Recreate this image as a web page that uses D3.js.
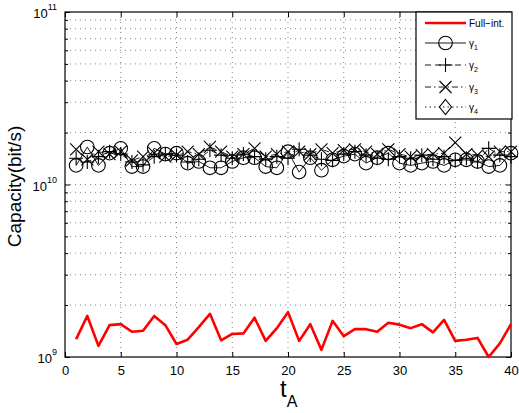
<!DOCTYPE html>
<html><head><meta charset="utf-8">
<script src="https://cdn.jsdelivr.net/npm/d3@7"></script>
<style>body{margin:0;background:#fff}svg{display:block}text{font-family:"Liberation Sans",Arial,sans-serif}</style>
</head><body><div id="c"></div>
<script>
const tA = d3.range(1, 41);
const fullInt = [1.27,1.73,1.16,1.53,1.55,1.40,1.42,1.73,1.53,1.19,1.26,1.49,1.78,1.25,1.36,1.37,1.69,1.24,1.47,1.82,
                 1.24,1.55,1.10,1.62,1.32,1.45,1.45,1.40,1.58,1.54,1.47,1.55,1.39,1.64,1.24,1.26,1.29,1.00,1.20,1.55].map(v=>v*1e9);
const gamma1 = [1.29,1.65,1.29,1.52,1.62,1.27,1.27,1.62,1.50,1.52,1.33,1.36,1.25,1.25,1.36,1.43,1.43,1.27,1.25,1.55,
                1.18,1.43,1.21,1.39,1.46,1.50,1.33,1.43,1.52,1.33,1.29,1.33,1.36,1.29,1.39,1.39,1.36,1.27,1.29,1.52].map(v=>v*1e10);
const gamma2 = [1.42,1.35,1.45,1.55,1.50,1.35,1.30,1.45,1.50,1.48,1.35,1.40,1.58,1.48,1.42,1.50,1.45,1.40,1.45,1.42,
                1.60,1.48,1.40,1.38,1.50,1.55,1.48,1.42,1.40,1.45,1.42,1.48,1.40,1.45,1.38,1.42,1.35,1.62,1.48,1.45].map(v=>v*1e10);
const gamma3 = [1.60,1.40,1.55,1.50,1.55,1.38,1.45,1.52,1.45,1.48,1.55,1.50,1.65,1.55,1.45,1.50,1.62,1.45,1.50,1.55,
                1.55,1.50,1.60,1.52,1.58,1.60,1.55,1.50,1.60,1.50,1.45,1.48,1.50,1.52,1.75,1.50,1.48,1.45,1.55,1.55].map(v=>v*1e10);
const gamma4 = []; // no γ4 markers are visible in the reference (legend entry only)
const xTicks = [0,5,10,15,20,25,30,35,40];
const yMajor = [1e9,1e10,1e11];
const legendLabels = ["Full\u2212int.","γ1","γ2","γ3","γ4"];

const W=519,H=413, L=65, R=511, T=12, B=357;
const svg=d3.select("#c").append("svg").attr("width",W).attr("height",H);
const x=d3.scaleLinear().domain([0,40]).range([L,R]);
const y=d3.scaleLog().domain([1e9,1e11]).range([B,T]);

const yMinor=[];
[1e9,1e10].forEach(d=>{for(let k=2;k<=9;k++) yMinor.push(d*k);});

const g=svg.append("g");
g.selectAll(".gx").data(xTicks.slice(1,-1)).enter().append("line")
 .attr("x1",d=>x(d)).attr("x2",d=>x(d)).attr("y1",T).attr("y2",B)
 .attr("stroke","#333").attr("stroke-width",0.6).attr("stroke-dasharray","1,4");
g.selectAll(".gy").data(yMinor.concat([1e10])).enter().append("line")
 .attr("x1",L).attr("x2",R).attr("y1",d=>y(d)).attr("y2",d=>y(d))
 .attr("stroke","#333").attr("stroke-width",0.6).attr("stroke-dasharray","1,4");

const ax=svg.append("g");
ax.append("g").attr("transform",`translate(0,${B})`).call(d3.axisBottom(x).tickValues(xTicks).tickSize(-5).tickPadding(9).tickFormat(d3.format("d")));
ax.append("g").attr("transform",`translate(0,${T})`).call(d3.axisTop(x).tickValues(xTicks).tickSize(-5).tickFormat(""));
ax.append("g").attr("transform",`translate(${L},0)`).call(d3.axisLeft(y).tickValues(yMajor).tickSize(-5).tickFormat(""));
ax.append("g").attr("transform",`translate(${R},0)`).call(d3.axisRight(y).tickValues(yMajor).tickSize(-5).tickFormat(""));
ax.append("g").attr("transform",`translate(${L},0)`).call(d3.axisLeft(y).tickValues(yMinor).tickSize(-3).tickFormat(""));
ax.append("g").attr("transform",`translate(${R},0)`).call(d3.axisRight(y).tickValues(yMinor).tickSize(-3).tickFormat(""));
ax.selectAll(".domain").remove();
ax.selectAll("line").attr("stroke","#000").attr("stroke-width",1);
ax.selectAll("text").attr("font-size",13).attr("fill","#000").attr("font-family","Liberation Sans, Arial, sans-serif");
svg.append("rect").attr("x",L).attr("y",T).attr("width",R-L).attr("height",B-T).attr("fill","none").attr("stroke","#000").attr("stroke-width",1.2);

yMajor.forEach(v=>{
  const e=Math.round(Math.log10(v));
  const t=svg.append("text").attr("x",L-8).attr("y",y(v)+6).attr("text-anchor","end").attr("font-size",13);
  t.append("tspan").text("10");
  t.append("tspan").attr("dy",-8).attr("font-size",9).text(e);
});

const line=d3.line().x((d,i)=>x(tA[i])).y(d=>y(d));
const series=[
 {data:gamma1,dash:null,mk:"circle"},
 {data:gamma2,dash:"6,4",mk:"plus"},
 {data:gamma3,dash:"6,3,1.5,3",mk:"cross"},
 {data:gamma4,dash:"1.5,3",mk:"diamond"}
];
function marker(sel,type,cx,cy){
  const s=sel.append("path").attr("transform",`translate(${cx},${cy})`).attr("fill","none").attr("stroke","#000").attr("stroke-width",1.1);
  if(type==="circle") s.attr("d",d3.symbol().type(d3.symbolCircle).size(Math.PI*6.8*6.8)());
  if(type==="plus") s.attr("d","M-7,0H7M0,-7V7");
  if(type==="cross") s.attr("d","M-6,-6L6,6M-6,6L6,-6");
  if(type==="diamond") s.attr("d","M0,-7.5L6,0L0,7.5L-6,0Z");
}
series.forEach(s=>{
  if(!s.data.length) return;
  svg.append("path").datum(s.data).attr("d",line).attr("fill","none").attr("stroke","#000").attr("stroke-width",0.9).attr("stroke-dasharray",s.dash);
  const gm=svg.append("g");
  s.data.forEach((d,i)=>marker(gm,s.mk,x(tA[i]),y(d)));
});
svg.append("path").datum(fullInt).attr("d",line).attr("fill","none").attr("stroke","#ff0000").attr("stroke-width",2.6).attr("stroke-linejoin","round");

const lg=svg.append("g");
lg.append("rect").attr("x",416).attr("y",T).attr("width",R-416+1).attr("height",107).attr("fill","#fff").attr("stroke","#000").attr("stroke-width",1.2);
const ly=[23,43,65,87,107];
legendLabels.forEach((lab,i)=>{
  const yy=ly[i];
  if(i===0){
    lg.append("line").attr("x1",425).attr("x2",466).attr("y1",yy).attr("y2",yy).attr("stroke","#ff0000").attr("stroke-width",2.6);
  } else {
    const s=series[i-1];
    lg.append("line").attr("x1",425).attr("x2",466).attr("y1",yy).attr("y2",yy).attr("stroke","#000").attr("stroke-width",0.9).attr("stroke-dasharray",s.dash);
    marker(lg,s.mk,445.5,yy);
  }
  const t=lg.append("text").attr("x",469).attr("y",yy+3.5).attr("font-size",10);
  if(i===0) t.text(lab);
  else { t.append("tspan").text("γ"); t.append("tspan").attr("dy",3).attr("font-size",7).text(lab.slice(1)); }
});

svg.append("text").attr("transform",`translate(21,${(T+B)/2+2}) rotate(-90)`).attr("text-anchor","middle").attr("font-size",19).text("Capacity(bit/s)");
const xt=svg.append("text").attr("x",280).attr("y",397).attr("font-size",24);
xt.append("tspan").text("t");
xt.append("tspan").attr("dy",10).attr("font-size",16).text("A");
</script></body></html>
